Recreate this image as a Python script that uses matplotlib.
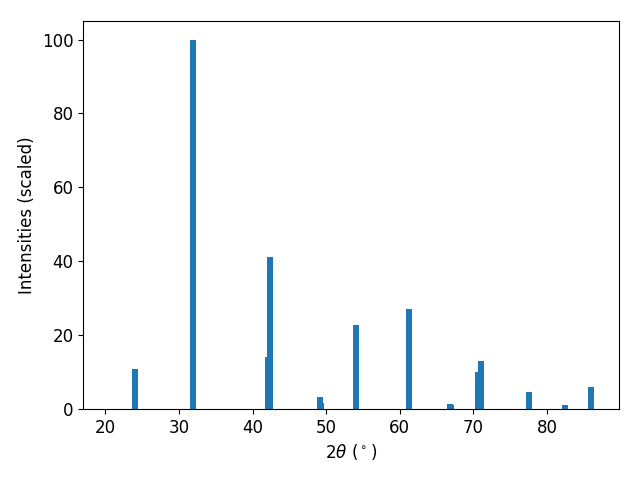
import matplotlib
matplotlib.use("Agg")
import matplotlib.pyplot as plt

two_theta = [24.03, 31.94, 42.1, 42.4, 49.17, 49.3, 54.06, 61.25, 66.8, 67.0, 70.6, 71.0, 77.5, 82.4, 85.95]
intensity = [10.9, 100.0, 14.2, 41.2, 3.3, 1.6, 22.6, 27.1, 1.4, 1.1, 10.0, 13.0, 4.6, 1.1, 5.9]

plt.rcParams['font.size'] = 12
fig, ax = plt.subplots(figsize=(6.4, 4.8), dpi=100)
ax.bar(two_theta, intensity, width=0.8, color='#1f77b4')
ax.set_xlim(17.0, 89.77)
ax.set_ylim(0, 105)
ax.set_xlabel(r'$2\theta$ ($^\circ$)')
ax.set_ylabel('Intensities (scaled)')
fig.subplots_adjust(left=0.13, right=0.967, top=0.956, bottom=0.148)
fig.savefig('out.png', dpi=100)
